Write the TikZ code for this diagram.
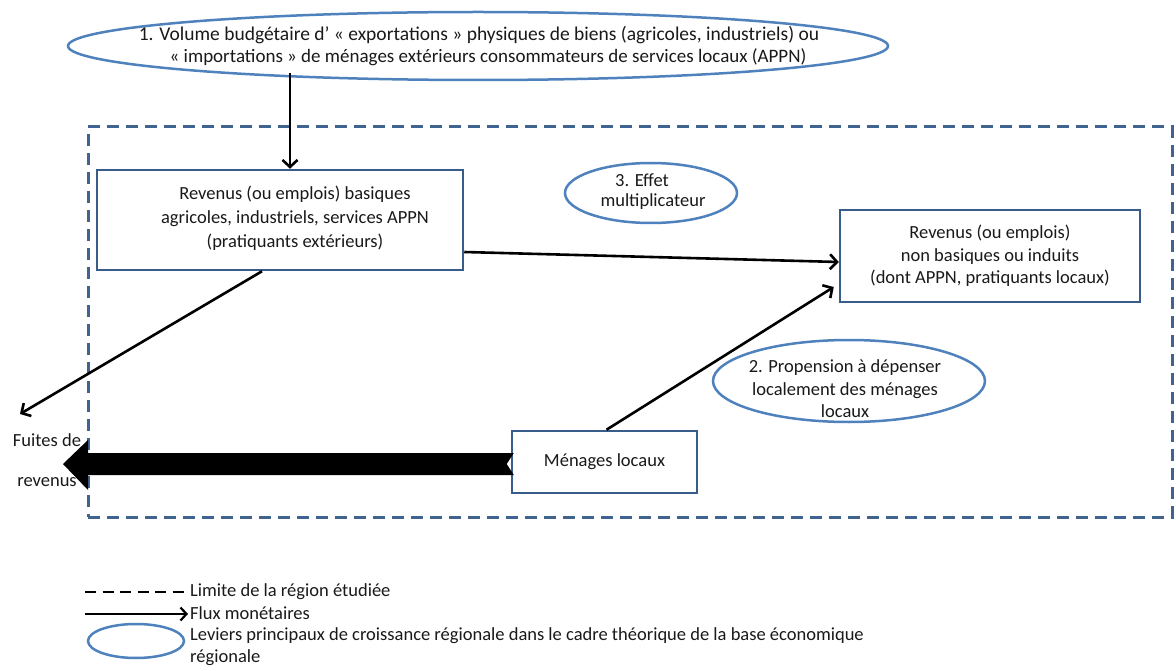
\documentclass[tikz,border=0pt]{standalone}
\usepackage{fontspec}
\setmainfont{Carlito}
\usetikzlibrary{arrows.meta,shapes.geometric,calc}
\definecolor{lev}{RGB}{79,129,189}
\definecolor{boxc}{RGB}{56,93,138}
\definecolor{regc}{RGB}{65,99,143}
\begin{document}
\begin{tikzpicture}[x=1pt,y=-1pt,
  txt/.style={inner sep=0pt,font=\fontsize{18.5}{22}\selectfont,text=black!90},
  lever/.style={ellipse,draw=lev,line width=2.5pt,inner sep=0pt},
  kbox/.style={rectangle,draw=boxc,line width=2.5pt,inner sep=0pt,align=center,font=\fontsize{18.5}{22.5}\selectfont,text=black!90},
  flow/.style={line width=2.6pt,-{Straight Barb[length=7pt,width=15pt,line width=2.6pt]}},
]
\useasboundingbox (0,0) rectangle (1176,671);
% region limit
\node[draw=regc,line width=3pt,dash pattern=on 12pt off 7pt,minimum width=1084pt,minimum height=390pt,inner sep=0pt] (reg) at (630,322) {};
% top lever
\node[lever,minimum width=820pt,minimum height=68pt] (lev1) at (478,46) {};
\node[txt,font=\fontsize{19.5}{22}\selectfont] (t1a) at (479,35) {1. Volume budgétaire d’ « exportations » physiques de biens (agricoles, industriels) ou};
\node[txt,font=\fontsize{19}{22}\selectfont] (t1b) at (488,57) {« importations » de ménages extérieurs consommateurs de services locaux (APPN)};
% boxes
\node[kbox,minimum width=366pt,minimum height=100pt] (box1) at (280,220) {};
\node[txt,align=center,font=\fontsize{18.5}{24}\selectfont] (b1t) at (295,218) {Revenus (ou emplois) basiques\\agricoles, industriels, services APPN\\(pratiquants extérieurs)};
\node[kbox,minimum width=300pt,minimum height=92pt] (box2) at (990,256) {Revenus (ou emplois)\\non basiques ou induits\\(dont APPN, pratiquants locaux)};
\node[kbox,minimum width=185pt,minimum height=62pt] (men) at (604.5,462) {Ménages locaux};
% levers 3 and 2
\node[lever,minimum width=172pt,minimum height=60pt] (lev3) at (651,193) {};
\node[txt] (t3a) at (642,180) {3. Effet};
\node[txt] (t3b) at (653,202) {multiplicateur};
\node[lever,minimum width=272pt,minimum height=82pt] (lev2) at (849,381) {};
\node[txt,align=center,font=\fontsize{18.5}{22.5}\selectfont] (t2) at (845,389) {2. Propension à dépenser\\localement des ménages\\locaux};
% leaks
\node[txt] (fa) at (47,440) {Fuites de};
\node[txt] (fb) at (47,482) {revenus};
\coordinate (fu) at (20,414);
% flows
\coordinate (a1) at (290,73);
\draw[flow] (a1) -- (a1 |- box1.north);
\draw[flow] ([yshift=-32pt]box1.east) -- ([yshift=-6pt]box2.west);
\draw[flow] ([xshift=-18pt]box1.south) -- (fu);
\draw[flow] ([xshift=2pt]men.north) -- ([xshift=-5pt,yshift=-31pt]box2.west);
% big leak arrow
\fill[black] ([xshift=3pt,yshift=9pt]men.west) -- (88,453) -- (88,440) -- (63,464) -- (88,490) -- (88,475) -- ([xshift=3pt,yshift=-13pt]men.west) -- ([xshift=-4pt,yshift=-2pt]men.west) -- cycle;
% legend
\coordinate (l1a) at (85,592); \coordinate (l1b) at (184,592);
\draw[line width=2pt,dash pattern=on 11pt off 6.5pt] (l1a) -- (l1b);
\node[txt,anchor=west] (lg1) at (190,592) {Limite de la région étudiée};
\coordinate (l2a) at (85,614); \coordinate (l2b) at (188,614);
\draw[line width=2.2pt,-{Straight Barb[length=6pt,width=13pt,line width=2.2pt]}] (l2a) -- (l2b);
\node[txt,anchor=west] (lg2) at (190,613) {Flux monétaires};
\node[lever,minimum width=96pt,minimum height=34pt] (lg3e) at (136,641) {};
\node[txt,anchor=west] (lg3) at (190,636) {Leviers principaux de croissance régionale dans le cadre théorique de la base économique};
\node[txt,anchor=west] (lg4) at (190,658) {régionale};
\end{tikzpicture}
\end{document}
